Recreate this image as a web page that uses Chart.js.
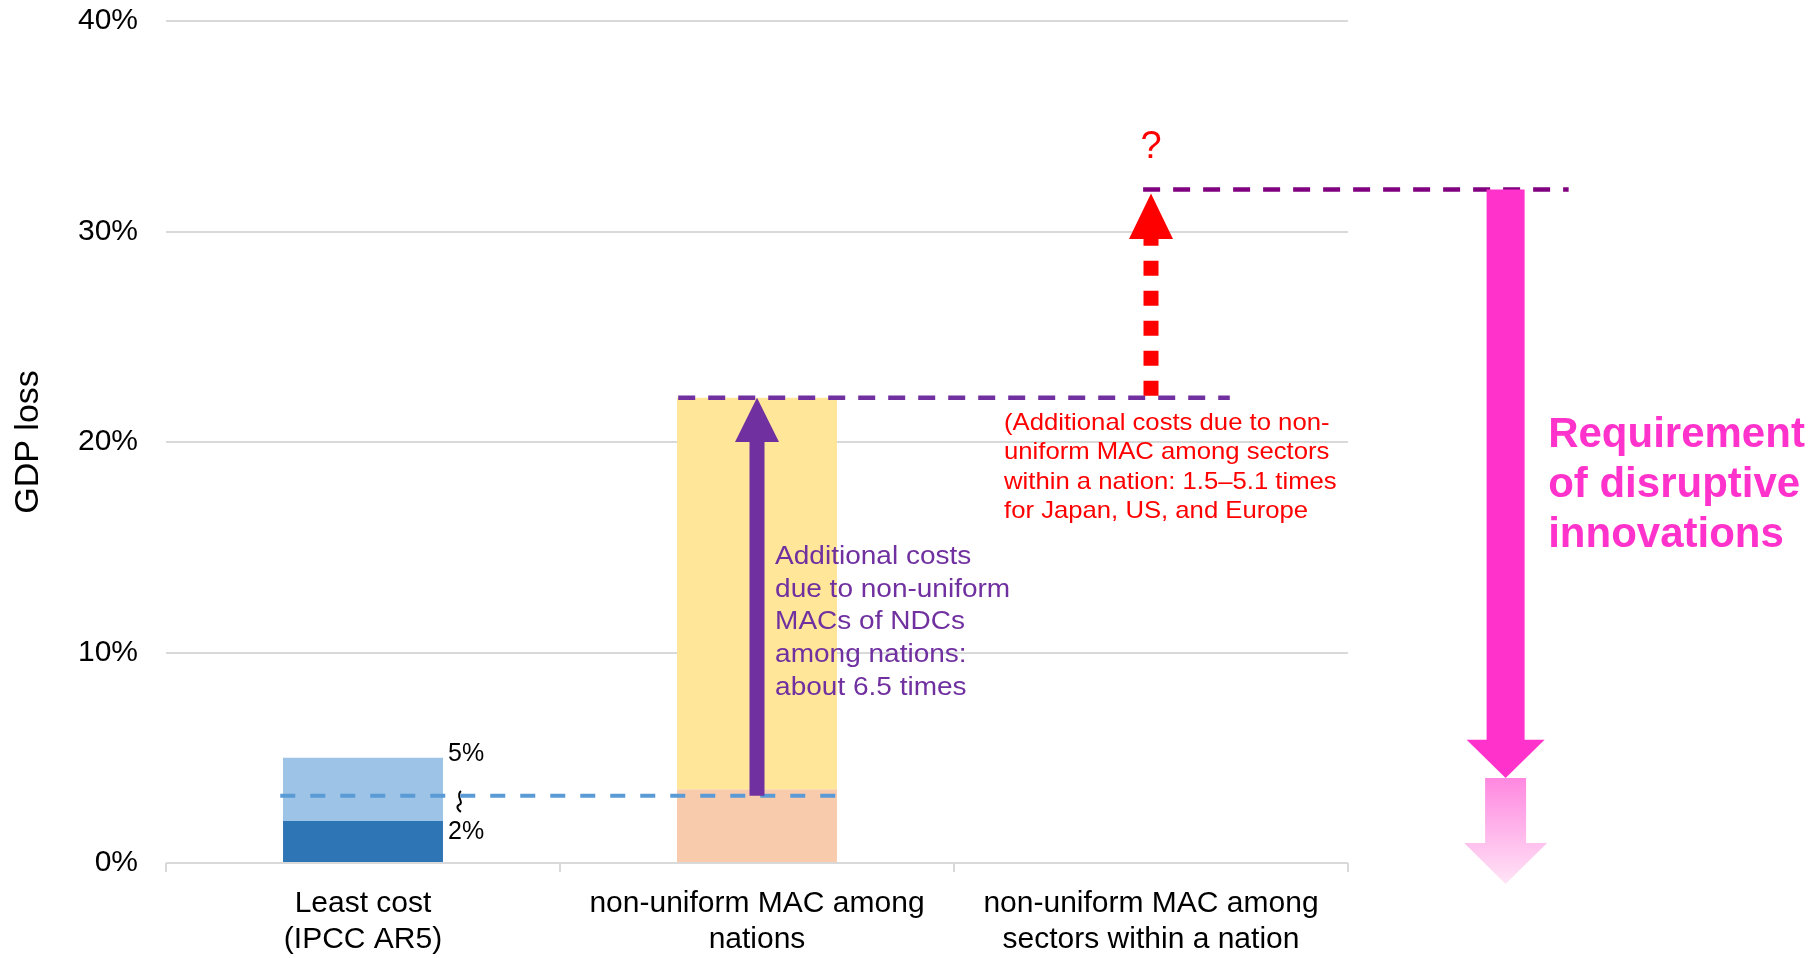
<!DOCTYPE html>
<html>
<head>
<meta charset="utf-8">
<script src="https://cdn.jsdelivr.net/npm/chart.js@4/dist/chart.umd.min.js"></script>
<style>
  html, body { margin: 0; padding: 0; background: #ffffff; }
  #wrap { width: 1814px; height: 958px; position: relative; }
</style>
</head>
<body>
<div id="wrap"><canvas id="c" width="1814" height="958"></canvas></div>
<script>
// ---- data -------------------------------------------------------------
const categories = [
  ['Least cost', '(IPCC AR5)'],
  ['non-uniform MAC among', 'nations'],
  ['non-uniform MAC among', 'sectors within a nation']
];
// lower part of each bar (GDP loss, %)
const lowerBottom = [0, 0, null];
const lowerTop    = [2, 3.5, null];
// upper part of each bar (GDP loss, %)
const upperTop    = [5, 22.1, null];
// range labels written beside the least-cost bar
const rangeLabels = [2, 5];
// reference levels (GDP loss, %)
const leastCostLevel = 3.2;
const nationsLevel   = 22.1;
const sectorsLevel   = 32;
// y axis ticks
const yTicks = [0, 10, 20, 30, 40];

const FONT = '"Liberation Sans", Arial, Helvetica, sans-serif';

// ---- annotation layout (category units on x, % on y) -----------------
const guideLines = [
  { level: leastCostLevel, from: -0.21, to: 1.2,  color: '#5B9BD5', width: 4,   dash: [15, 15] },
  { level: nationsLevel,   from: 0.8,   to: 2.2,  color: '#7030A0', width: 4.5, dash: [17, 13] },
  { level: sectorsLevel,   from: 1.98,  to: 3.06, color: '#800080', width: 4.5, dash: [17, 13] }
];

const notes = [
  { lines: ['Additional costs', 'due to non-uniform', 'MACs of NDCs', 'among nations:', 'about 6.5 times'],
    x: 1.046, y: 14.2, gap: 32.7, font: '25px ' + FONT, color: '#7030A0', stretch: 1.12 },
  { lines: ['(Additional costs due to non-', 'uniform MAC among sectors', 'within a nation: 1.5\u20135.1 times', 'for Japan, US, and Europe'],
    x: 1.627, y: 20.57, gap: 29.3, font: '24px ' + FONT, color: '#FF0000', stretch: 1.07 },
  { lines: ['Requirement', 'of disruptive', 'innovations'],
    x: 3.008, y: 19.76, gap: 50, font: 'bold 42px ' + FONT, color: '#FF33CC', stretch: 1.0 }
];

function drawDashed(ctx, x0, x1, y, color, width, dash) {
  ctx.save();
  ctx.strokeStyle = color;
  ctx.lineWidth = width;
  ctx.setLineDash(dash);
  ctx.beginPath();
  ctx.moveTo(x0, y);
  ctx.lineTo(x1, y);
  ctx.stroke();
  ctx.restore();
}

// vertical block arrow; yTail -> yHeadBase is the shaft, yHeadBase -> yTip is the head
function blockArrow(ctx, x, yTail, yHeadBase, yTip, shaftW, headW, fill) {
  ctx.save();
  ctx.fillStyle = fill;
  ctx.beginPath();
  ctx.moveTo(x - shaftW / 2, yTail);
  ctx.lineTo(x - shaftW / 2, yHeadBase);
  ctx.lineTo(x - headW / 2, yHeadBase);
  ctx.lineTo(x, yTip);
  ctx.lineTo(x + headW / 2, yHeadBase);
  ctx.lineTo(x + shaftW / 2, yHeadBase);
  ctx.lineTo(x + shaftW / 2, yTail);
  ctx.closePath();
  ctx.fill();
  ctx.restore();
}

function drawLines(ctx, n, X, Y) {
  ctx.save();
  ctx.font = n.font;
  ctx.fillStyle = n.color;
  ctx.textAlign = 'left';
  ctx.textBaseline = 'alphabetic';
  const x0 = X(n.x), y0 = Y(n.y);
  n.lines.forEach((t, i) => {
    ctx.save();
    ctx.translate(x0, y0 + i * n.gap);
    ctx.scale(n.stretch, 1);
    ctx.fillText(t, 0, 0);
    ctx.restore();
  });
  ctx.restore();
}

const annotationPlugin = {
  id: 'scenarioAnnotations',
  afterDatasetsDraw(chart) {
    const ctx = chart.ctx;
    const xs = chart.scales.x, ys = chart.scales.y;
    const X = v => xs.getPixelForValue(v);
    const Y = v => ys.getPixelForValue(v);

    // range labels beside the least-cost bar
    ctx.save();
    ctx.font = '25px ' + FONT;
    ctx.fillStyle = '#000000';
    ctx.textAlign = 'left';
    ctx.textBaseline = 'middle';
    const lx = X(0.216);
    rangeLabels.forEach(v => {
      const dy = v === Math.max(...rangeLabels) ? -4 : 11;
      ctx.fillText(v + '%', lx, Y(v) + dy);
    });
    ctx.restore();

    // small break mark between the two labels
    const wx = X(0.246), wy = Y(2.95);
    ctx.save();
    ctx.strokeStyle = '#000000';
    ctx.lineWidth = 2;
    ctx.beginPath();
    ctx.moveTo(wx + 1, wy - 10);
    ctx.bezierCurveTo(wx - 5, wy - 5, wx + 5, wy + 2, wx - 1, wy + 4);
    ctx.bezierCurveTo(wx - 4, wy + 6, wx - 2, wy + 9, wx + 1, wy + 11);
    ctx.stroke();
    ctx.restore();

    // horizontal guide lines
    guideLines.forEach(g => drawDashed(ctx, X(g.from), X(g.to), Y(g.level), g.color, g.width, g.dash));

    // purple arrow: least cost -> non-uniform among nations
    blockArrow(ctx, X(1), Y(leastCostLevel), Y(20.0), Y(nationsLevel), 15, 44, '#7030A0');

    // red dotted arrow: nations -> sectors
    const rx = X(2);
    ctx.save();
    ctx.strokeStyle = '#FF0000';
    ctx.lineWidth = 15;
    ctx.setLineDash([15, 15]);
    ctx.beginPath();
    ctx.moveTo(rx, Y(nationsLevel) - 2);
    ctx.lineTo(rx, Y(29.64) + 4);
    ctx.stroke();
    ctx.restore();
    blockArrow(ctx, rx, Y(29.64) + 4, Y(29.64), Y(31.8), 15, 44, '#FF0000');

    // question mark above the red arrow
    ctx.save();
    ctx.font = '38px ' + FONT;
    ctx.fillStyle = '#FF0000';
    ctx.textAlign = 'center';
    ctx.textBaseline = 'middle';
    ctx.fillText('?', rx, Y(34.0));
    ctx.restore();

    // magenta arrow: requirement of disruptive innovations
    const mx = X(2.9);
    blockArrow(ctx, mx, Y(sectorsLevel), Y(5.85), Y(4.04), 38, 78, '#FF33CC');
    const grad = ctx.createLinearGradient(0, Y(4.04), 0, Y(-1.0));
    grad.addColorStop(0, '#FF88E0');
    grad.addColorStop(1, '#FFE4F6');
    blockArrow(ctx, mx, Y(4.04), Y(0.95), Y(-1.0), 41, 83, grad);

    // text notes
    notes.forEach(n => drawLines(ctx, n, X, Y));
  }
};

new Chart(document.getElementById('c').getContext('2d'), {
  type: 'bar',
  data: {
    labels: categories,
    datasets: [
      {
        label: 'lower',
        data: lowerTop.map((t, i) => t === null ? null : [lowerBottom[i], t]),
        backgroundColor: ['#2E75B6', '#F8CBAD', 'rgba(0,0,0,0)'],
        grouped: false,
        barPercentage: 1,
        categoryPercentage: 0.406,
        order: 2
      },
      {
        label: 'upper',
        data: upperTop.map((t, i) => t === null ? null : [lowerTop[i], t]),
        backgroundColor: ['#9DC3E6', '#FFE699', 'rgba(0,0,0,0)'],
        grouped: false,
        barPercentage: 1,
        categoryPercentage: 0.406,
        order: 1
      }
    ]
  },
  options: {
    responsive: false,
    animation: false,
    devicePixelRatio: 1,
    layout: { padding: { top: 21, right: 466, left: 0, bottom: 0 } },
    plugins: { legend: { display: false }, tooltip: { enabled: false } },
    scales: {
      x: {
        grid: { display: true, drawOnChartArea: false, drawTicks: true, tickLength: 9,
                color: '#D9D9D9', lineWidth: 2, offset: true },
        border: { display: false },
        ticks: { font: { size: 30, family: FONT }, color: '#000000', padding: 14,
                 maxRotation: 0, autoSkip: false },
        afterFit(s) { s.height = 95; s.paddingLeft = 0; s.paddingRight = 0; }
      },
      y: {
        min: yTicks[0],
        max: yTicks[yTicks.length - 1],
        afterBuildTicks(s) { s.ticks = yTicks.map(v => ({ value: v })); },
        ticks: { callback: v => v + '%', font: { size: 30, family: FONT }, color: '#000000', padding: 28 },
        grid: { color: '#D9D9D9', lineWidth: 2, drawTicks: false },
        border: { display: false },
        title: { display: true, text: 'GDP loss', color: '#000000',
                 font: { size: 34, family: FONT }, padding: { top: 8, bottom: 0 } },
        afterFit(s) { s.width = 166; s.paddingTop = 0; s.paddingBottom = 0; }
      }
    }
  },
  plugins: [annotationPlugin]
});
</script>
</body>
</html>
